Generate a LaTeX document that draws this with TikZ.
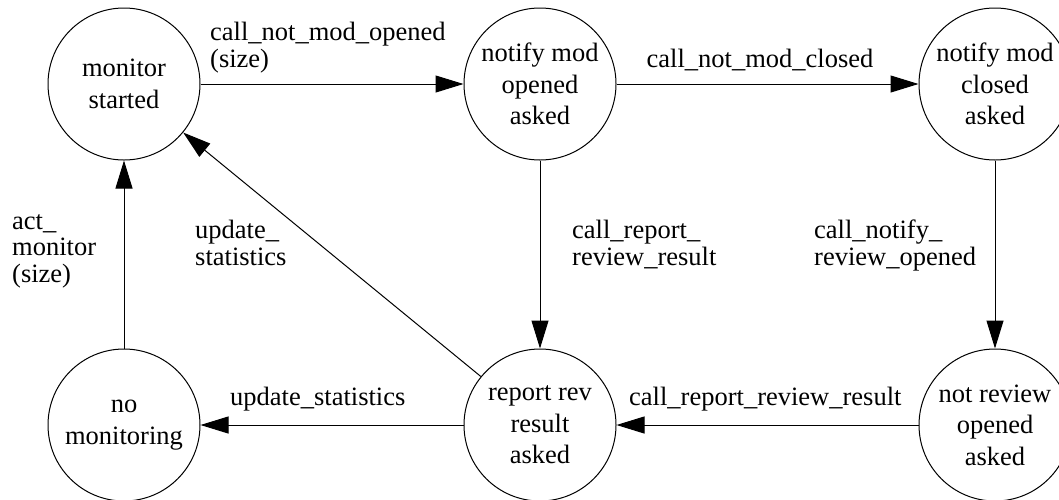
\documentclass[tikz,border=0pt]{standalone}
\usepackage{fontspec}
\setmainfont{Liberation Serif}
\usepackage{tikz}
\usetikzlibrary{arrows.meta,positioning}

\tikzset{
  stnode/.style={draw, circle, line width=1pt, minimum size=152pt, inner sep=0pt,
                 align=center, font=\fontsize{26.5}{31.5}\selectfont},
  lbl/.style={inner sep=0pt, align=left, anchor=base west,
              font=\fontsize{26.5}{26.5}\selectfont},
  arr/.style={line width=1pt, -{Triangle[length=28pt,width=17pt]}}
}

\begin{document}
\begin{tikzpicture}[x=1pt, y=-1pt]
\useasboundingbox (0,0) rectangle (1059,499);

% states
\node[stnode] (monstart)  at (124,84)  {monitor\\started};
\node[stnode] (modopen)   at (540,84)  {notify mod\\opened\\asked};
\node[stnode] (modclose)  at (995,84)  {notify mod\\closed\\asked};
\node[stnode] (nomon)     at (124,425) {no\\monitoring};
\node[stnode] (revresult) at (540,425) {report rev\\result\\asked};
\node[stnode] (revopen)   at (995,425) {not review\\opened\\asked};

% transitions
\draw[arr] (monstart) -- (modopen);
\draw[arr] (modopen) -- (modclose);
\draw[arr] (modopen) -- (revresult);
\draw[arr] (modclose) -- (revopen);
\draw[arr] (revopen) -- (revresult);
\draw[arr] (revresult) -- (nomon);
\draw[arr] (nomon) -- (monstart);
\draw[arr] (revresult) -- (monstart);

% labels (base = last line)
\node[lbl] (lopen)    at (210,67)  {call\_not\_mod\_opened\\(size)};
\node[lbl, anchor=base] (lclose) at (760,67) {call\_not\_mod\_closed};
\node[lbl] (lreport)  at (572,265) {call\_report\_\\review\_result};
\node[lbl] (lnotify)  at (814,265) {call\_notify\_\\review\_opened};
\node[lbl] (lrevres)  at (629,405) {call\_report\_review\_result};
\node[lbl] (lupdate)  at (230,405) {update\_statistics};
\node[lbl] (lupdiag)  at (195,265) {update\_\\statistics};
\node[lbl] (lact)     at (12,282)  {act\_\\monitor\\(size)};
\end{tikzpicture}
\end{document}
